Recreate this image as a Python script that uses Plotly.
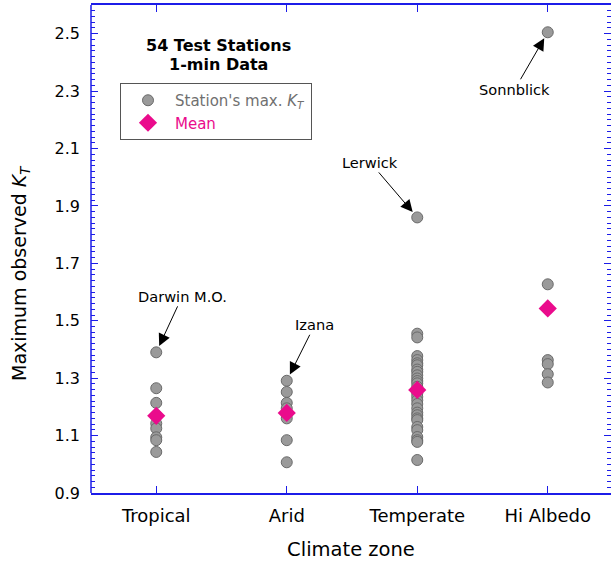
import plotly.graph_objects as go

# Climate zones along the x axis
zones = ["Tropical", "Arid", "Temperate", "Hi Albedo"]

# Maximum observed clearness index (1-min data) per station, by zone
tropical_kt = [1.390, 1.265, 1.214, 1.170, 1.142, 1.125, 1.094, 1.084, 1.043]
arid_kt = [1.291, 1.252, 1.214, 1.195, 1.175, 1.160, 1.084, 1.007]
temperate_kt = [1.860, 1.455, 1.442, 1.377, 1.363, 1.352, 1.345, 1.330, 1.322,
                1.310, 1.299, 1.290, 1.282, 1.270, 1.262, 1.255, 1.247, 1.235,
                1.223, 1.210, 1.195, 1.180, 1.171, 1.160, 1.154, 1.130, 1.119,
                1.095, 1.084, 1.078, 1.015]
hi_albedo_kt = [2.505, 1.627, 1.363, 1.349, 1.314, 1.285]

# Zone means
zone_means = [1.169, 1.179, 1.259, 1.543]

# Named stations called out on the chart: zone index, value, label, text offset (px)
callout_zone = [0, 1, 2, 3]
callout_value = [1.390, 1.291, 1.860, 2.505]
callout_label = ["Darwin M.O.", "Izana", "Lerwick", "Sonnblick"]
callout_offset = [(26, -56), (28, -56), (-47, -55), (-33, 57)]

FONT = "DejaVu Sans, Verdana, sans-serif"
AXIS_BLUE = "#1c1ce8"
PINK = "#ea0b8c"
GREY_TXT = "#707070"

station_x, station_y = [], []
for i, vals in enumerate([tropical_kt, arid_kt, temperate_kt, hi_albedo_kt]):
    station_x += [i] * len(vals)
    station_y += vals

fig = go.Figure()
fig.add_trace(go.Scatter(
    x=station_x, y=station_y, mode="markers",
    name="<span style='color:%s'>Station's max. <i>K</i><sub><i>T</i></sub></span>" % GREY_TXT,
    marker=dict(symbol="circle", size=11, color="#9a9a9a",
                line=dict(color="#6a6a6a", width=1)),
))
fig.add_trace(go.Scatter(
    x=list(range(len(zones))), y=zone_means, mode="markers",
    name="<span style='color:%s'>Mean</span>" % PINK,
    marker=dict(symbol="diamond", size=14, color=PINK, line=dict(width=0)),
))

for zi, val, label, (ax, ay) in zip(callout_zone, callout_value, callout_label, callout_offset):
    fig.add_annotation(
        x=zi, y=val, xref="x", yref="y", text=label,
        showarrow=True, ax=ax, ay=ay, axref="pixel", ayref="pixel",
        arrowhead=2, arrowsize=2.4, arrowwidth=1, arrowcolor="black",
        standoff=7, font=dict(family=FONT, size=14.6, color="black"),
    )

L, R, T, B = 91, 0, 5, 73
W, H = 611, 566
pw, ph = W - L - R, H - T - B
ZONE_STEP_PX = 130.5  # pixel spacing between zones; frame runs just past the right edge

def px_x(xp):
    return (xp - L) / pw

def px_y(yp):
    return (H - B - yp) / ph

# Title block inside the plot area
for text, ypx in [("<b>54 Test Stations</b>", 46), ("<b>1-min Data</b>", 64)]:
    fig.add_annotation(
        x=px_x(218), y=px_y(ypx), xref="paper", yref="paper",
        xanchor="center", yanchor="middle", text=text, showarrow=False,
        font=dict(family=FONT, size=16, color="black"),
    )

# Y axis title, drawn as a rotated annotation
fig.add_annotation(
    x=px_x(20), y=px_y(274), xref="paper", yref="paper",
    xanchor="center", yanchor="middle", textangle=-90, showarrow=False,
    text="Maximum observed <i>K</i><sub><i>T</i></sub>",
    font=dict(family=FONT, size=19, color="black"),
)

# Left frame edge
fig.add_shape(type="line", xref="paper", yref="paper", x0=0, x1=0, y0=0, y1=1,
              line=dict(color=AXIS_BLUE, width=1.5), layer="above")

fig.update_layout(
    width=W, height=H,
    margin=dict(l=L, r=R, t=T, b=B),
    paper_bgcolor="white", plot_bgcolor="white",
    font=dict(family=FONT, color="black"),
    showlegend=True,
    legend=dict(
        x=px_x(120), y=px_y(83), xanchor="left", yanchor="top",
        bordercolor="#555555", borderwidth=1, bgcolor="white",
        font=dict(family=FONT, size=15), itemsizing="trace", itemwidth=44,
        tracegroupgap=0,
    ),
    xaxis=dict(
        range=[-0.5, -0.5 + pw / ZONE_STEP_PX], tickmode="array",
        tickvals=list(range(len(zones))),
        ticktext=zones, ticks="inside", ticklen=7, tickcolor=AXIS_BLUE,
        showline=True, linecolor=AXIS_BLUE, linewidth=1.5, mirror="ticks",
        showgrid=False, zeroline=False, ticklabelstandoff=6,
        tickfont=dict(family=FONT, size=18, color="black"),
        title=dict(text="Climate zone", font=dict(family=FONT, size=19.5), standoff=17),
    ),
    yaxis=dict(
        range=[0.9, 2.6], tick0=0.9, dtick=0.2, tickformat=".1f",
        ticks="inside", ticklen=7, tickcolor=AXIS_BLUE,
        minor=dict(dtick=0.02, ticks="inside", ticklen=4, tickcolor=AXIS_BLUE, showgrid=False),
        showline=False, mirror="ticks",
        showgrid=False, zeroline=False, ticklabelstandoff=10,
        tickfont=dict(family=FONT, size=16, color="black"),
    ),
)

fig.write_html("out.html")
